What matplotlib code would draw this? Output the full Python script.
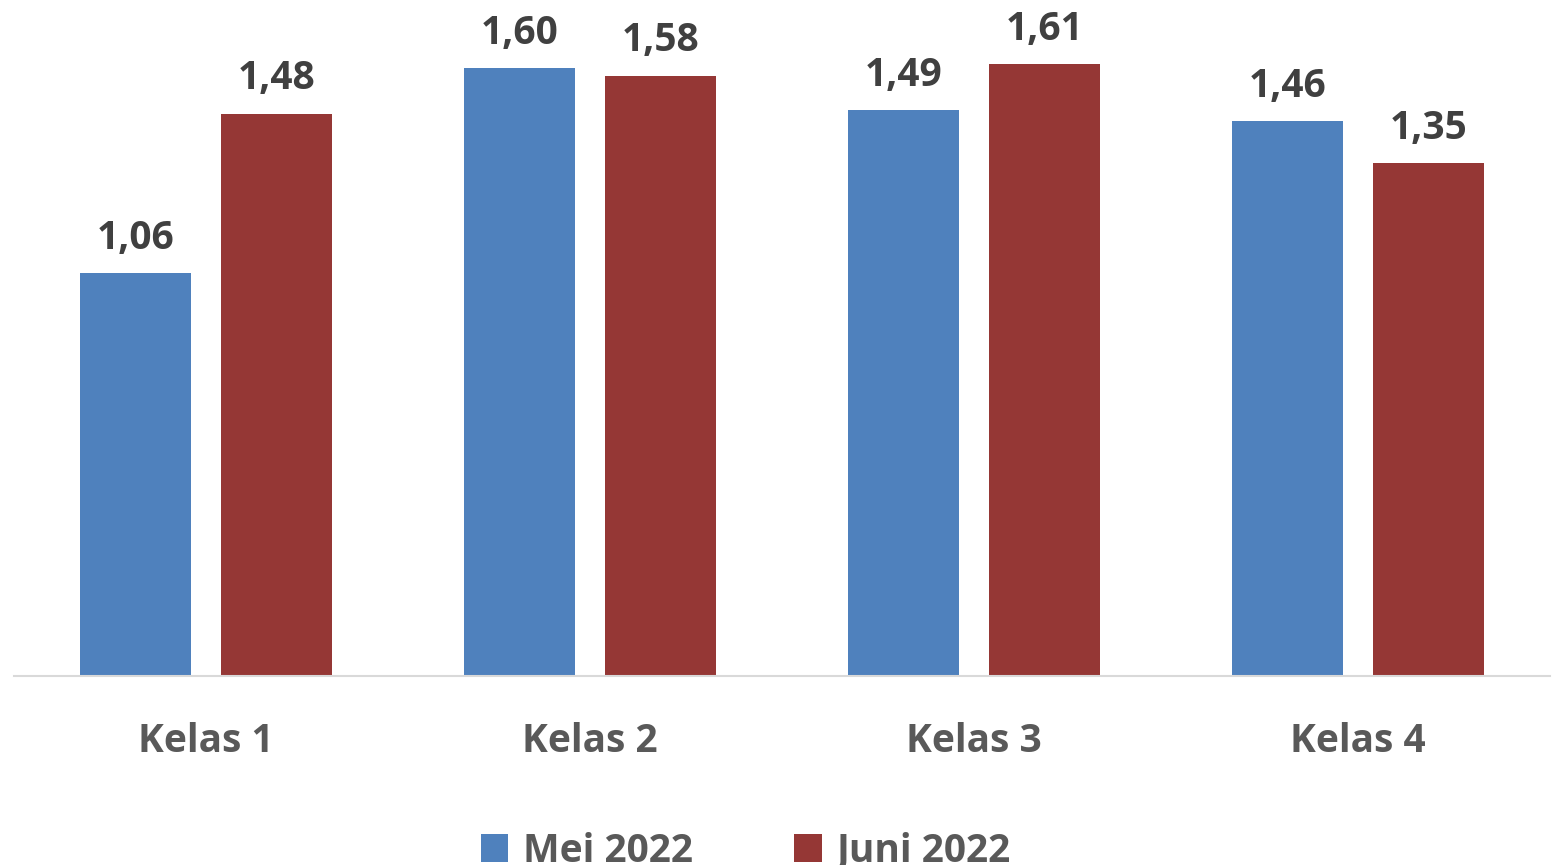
import matplotlib.pyplot as plt
import numpy as np

categories = ['Kelas 1', 'Kelas 2', 'Kelas 3', 'Kelas 4']
mei_2022 = [1.06, 1.60, 1.49, 1.46]
juni_2022 = [1.48, 1.58, 1.61, 1.35]
series_names = ['Mei 2022', 'Juni 2022']

blue = '#4F81BD'
red = '#953735'

plt.rcParams['font.family'] = ['Open Sans', 'DejaVu Sans']

W, H = 1552, 865
fig = plt.figure(figsize=(W / 100, H / 100), dpi=100)
ax = fig.add_axes([14 / W, (H - 676) / H, 1536 / W, 676 / H])

x = np.arange(len(categories))
bw = 0.289
off = (bw + 0.078) / 2
b1 = ax.bar(x - off, mei_2022, bw, color=blue, label=series_names[0])
b2 = ax.bar(x + off, juni_2022, bw, color=red, label=series_names[1])

for bars, vals in [(b1, mei_2022), (b2, juni_2022)]:
    for rect, v in zip(bars, vals):
        ax.annotate(f'{v:.2f}'.replace('.', ','),
                    (rect.get_x() + rect.get_width() / 2, v),
                    xytext=(0, 11), textcoords='offset points',
                    ha='center', va='bottom', fontsize=28,
                    fontweight='bold', color='#404040')

ax.set_xlim(-0.5, 3.5)
ax.set_ylim(0, 676 / 380)
ax.set_xticks(x)
ax.set_xticklabels(categories, fontsize=28, fontweight='bold', color='#595959')
ax.tick_params(axis='x', length=0, pad=33)
ax.set_yticks([])
for s in ['top', 'left', 'right']:
    ax.spines[s].set_visible(False)
ax.spines['bottom'].set_color('#D9D9D9')
ax.spines['bottom'].set_linewidth(1.5)

leg = fig.legend(loc='center', bbox_to_anchor=(746 / W, 1 - 851 / H),
                 ncol=2, frameon=False, handlelength=0.7, handleheight=0.7,
                 handletextpad=0.4, columnspacing=2.6,
                 prop={'size': 28, 'weight': 'bold'})
for t in leg.get_texts():
    t.set_color('#595959')

fig.savefig('out.png', dpi=100)
